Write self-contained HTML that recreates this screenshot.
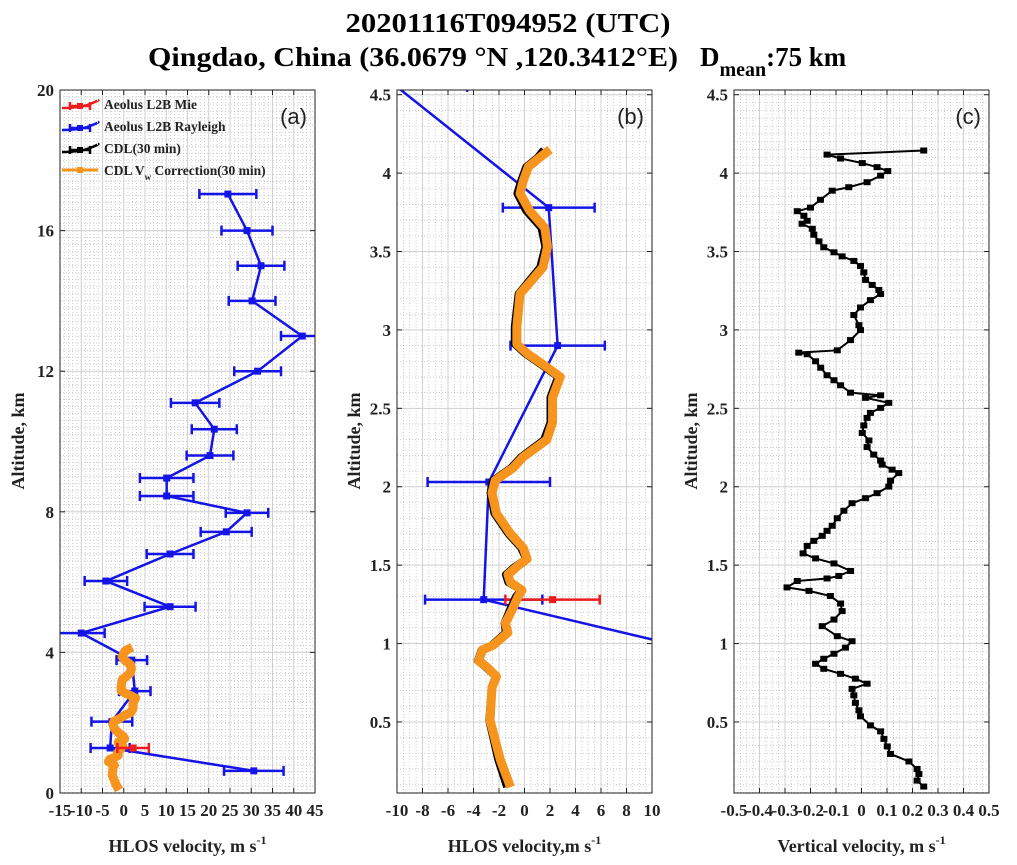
<!DOCTYPE html>
<html><head><meta charset="utf-8"><style>
html,body{margin:0;padding:0;background:#fff;}
svg{display:block;font-family:"Liberation Serif",serif;}
</style></head><body>
<svg id="fig" width="1017" height="865" viewBox="0 0 1017 865" xmlns="http://www.w3.org/2000/svg">
<text x="508" y="32" text-anchor="middle" font-size="27" font-weight="bold" textLength="325" lengthAdjust="spacingAndGlyphs">20201116T094952 (UTC)</text>
<text x="148" y="66" font-size="27" font-weight="bold"><tspan textLength="530" lengthAdjust="spacingAndGlyphs">Qingdao, China (36.0679 °N ,120.3412°E)</tspan><tspan dx="22">D</tspan><tspan font-size="20" dy="10">mean</tspan><tspan dy="-10" textLength="80" lengthAdjust="spacingAndGlyphs">:75 km</tspan></text>
<g id="pa"></g>
<g id="pb"></g>
<g id="pc"></g>
</svg>
<script>
// ---- data ----
const rayAlt = [17.04,16.0,15.0,14.0,13.0,12.0,11.1,10.35,9.6,8.96,8.45,7.97,7.43,6.8,6.03,5.3,4.55,3.78,2.9,2.03,1.28,0.63];
const rayVel = [24.5,29,32.3,30.2,42,31.5,16.8,21.3,20.3,10.1,10.1,29,24.1,10.9,-4.2,10.9,-10,1.9,2.6,-2.8,-3.2,30.6];
const rayErr = [6.7,6,5.5,5.5,5,5.5,5.7,5.3,5.5,6.3,6.3,5,6,5.5,5,6,5.5,3.6,3.7,4.8,4.6,7];
const mieAlt = [1.28];
const mieVel = [2.2];
const mieErr = [3.7];
const cdlAlt = [0.085,0.26,0.51,0.72,0.79,0.85,0.89,0.96,0.99,1.07,1.13,1.21,1.30,1.34,1.39,1.44,1.49,1.54,1.61,1.70,1.83,1.96,2.04,2.12,2.19,2.30,2.41,2.57,2.70,2.76,2.85,2.91,3.02,3.23,3.30,3.40,3.53,3.65,3.76,3.87,3.95,4.04,4.10,4.15];
const cdlVel = [-1.4,-2.1,-2.8,-2.6,-2.3,-3.1,-3.7,-3.4,-2.6,-1.5,-1.6,-1.2,-0.7,-0.3,-1.3,-1.5,-0.8,0.1,-0.3,-1.3,-2.4,-2.7,-2.5,-1.1,-0.3,1.5,2.0,2.0,2.6,1.6,0.0,-0.8,-0.8,-0.5,0.2,1.2,1.6,1.3,0.1,-0.6,-0.3,0.1,1.0,1.5];
const corVel = [-1.1,-1.9,-2.7,-2.55,-2.2,-2.95,-3.6,-3.3,-2.45,-1.3,-1.5,-1.0,-0.5,-0.2,-1.1,-1.3,-0.6,0.2,-0.1,-1.1,-2.2,-2.55,-2.3,-0.9,-0.1,1.75,2.2,2.2,2.8,1.8,0.2,-0.6,-0.6,-0.35,0.4,1.45,1.8,1.6,0.4,-0.35,-0.1,0.3,1.2,2.0];
const vwAlt = [4.144,4.118,4.093,4.064,4.038,4.013,3.984,3.942,3.91,3.888,3.83,3.78,3.757,3.728,3.696,3.677,3.645,3.607,3.565,3.527,3.495,3.469,3.44,3.408,3.367,3.319,3.287,3.255,3.229,3.19,3.143,3.095,3.03,2.999,2.935,2.87,2.855,2.845,2.8,2.759,2.711,2.679,2.647,2.6,2.583,2.567,2.535,2.503,2.471,2.439,2.391,2.343,2.295,2.253,2.205,2.167,2.141,2.109,2.087,2.039,2.001,1.959,1.927,1.895,1.847,1.799,1.751,1.719,1.687,1.655,1.623,1.575,1.543,1.511,1.463,1.431,1.415,1.399,1.358,1.336,1.303,1.255,1.207,1.153,1.111,1.047,1.015,0.974,0.935,0.903,0.871,0.839,0.807,0.776,0.744,0.711,0.67,0.622,0.574,0.536,0.478,0.44,0.392,0.344,0.296,0.248,0.2,0.168,0.126,0.088];
const vwVel = [0.244,-0.135,-0.082,0.003,0.061,0.103,0.075,0.022,-0.05,-0.115,-0.161,-0.2,-0.252,-0.226,-0.213,-0.233,-0.193,-0.187,-0.167,-0.148,-0.108,-0.076,-0.03,-0.004,0.009,0.016,0.042,0.068,0.075,0.035,-0.004,-0.03,-0.01,-0.004,-0.043,-0.095,-0.246,-0.213,-0.18,-0.16,-0.135,-0.108,-0.082,-0.043,0.075,0.016,0.107,0.075,0.035,0.022,0.009,0.003,0.029,0.022,0.048,0.075,0.081,0.12,0.146,0.114,0.107,0.061,0.016,-0.037,-0.069,-0.095,-0.115,-0.135,-0.154,-0.187,-0.213,-0.229,-0.18,-0.108,-0.043,-0.089,-0.135,-0.252,-0.292,-0.206,-0.122,-0.082,-0.076,-0.108,-0.154,-0.095,-0.037,-0.063,-0.108,-0.148,-0.18,-0.148,-0.082,-0.024,0.022,-0.037,-0.03,-0.024,-0.01,-0.004,0.035,0.075,0.088,0.101,0.114,0.186,0.218,0.225,0.218,0.244];
const aXTicks = [-15,-10,-5,0,5,10,15,20,25,30,35,40,45];
const aYTicks = [0,4,8,12,16,20];
const bXTicks = [-10,-8,-6,-4,-2,0,2,4,6,8,10];
const bYTicks = [0.5,1,1.5,2,2.5,3,3.5,4,4.5];
const cXTicks = [-0.5,-0.4,-0.3,-0.2,-0.1,0,0.1,0.2,0.3,0.4,0.5];
const cXLabels = ["-0.5","-0.4","-0.3","-0.2","-0.1","0","0.1","0.2","0.3","0.4","0.5"];
const cYTicks = [0.5,1,1.5,2,2.5,3,3.5,4,4.5];

const NS="http://www.w3.org/2000/svg";
function mk(parent, tag, at){const e=document.createElementNS(NS,tag);for(const k in at)e.setAttribute(k,at[k]);parent.appendChild(e);return e;}

function panel(g, o){
  const L=o.L,R=o.R,T=90,B=793;
  const sx=v=>L+(v-o.x0)/(o.x1-o.x0)*(R-L);
  const sy=v=>B-(v-o.y0)/(o.y1-o.y0)*(B-T);
  const defsId='clip'+g.id;
  const cp=mk(g,'clipPath',{id:defsId}); mk(cp,'rect',{x:L,y:T,width:R-L,height:B-T});
  const grid=mk(g,'g',{stroke:'#bbb','stroke-width':0.7,'stroke-dasharray':'1 2'});
  
  
  for(let v=o.x0;v<=o.x1+1e-9;v+=o.xm){mk(grid,'line',{x1:sx(v),x2:sx(v),y1:T,y2:B});}
  for(let v=o.ym0;v<=o.y1+1e-9;v+=o.ym){mk(grid,'line',{x1:L,x2:R,y1:sy(v),y2:sy(v)});}
  const mg=mk(g,'g',{stroke:'#d0d0d0','stroke-width':1});
  
  
  o.xt.forEach(v=>mk(mg,'line',{x1:sx(v),x2:sx(v),y1:T,y2:B}));
  o.yt.forEach(v=>{if(v<=o.y1)mk(mg,'line',{x1:L,x2:R,y1:sy(v),y2:sy(v)})});
  const data=mk(g,'g',{'clip-path':`url(#${defsId})`});
  
  
  o.draw(data,sx,sy);
  const ax=mk(g,'rect',{x:L,y:T,width:R-L,height:B-T,fill:'none',stroke:'#222','stroke-width':1});
  
  
  o.xt.forEach((v,i)=>{
    mk(g,'line',{x1:sx(v),x2:sx(v),y1:B,y2:B-5,stroke:'#222'});
    mk(g,'line',{x1:sx(v),x2:sx(v),y1:T,y2:T+5,stroke:'#222'});
    const t=mk(g,'text',{x:sx(v),y:B+23,'text-anchor':'middle','font-size':o.xfs||17,'font-weight':'bold',fill:'#222'});
    t.textContent=o.xl?o.xl[i]:String(v);
    
    
  });
  o.yt.forEach(v=>{
    mk(g,'line',{x1:L,x2:L+5,y1:sy(v),y2:sy(v),stroke:'#222'});
    mk(g,'line',{x1:R,x2:R-5,y1:sy(v),y2:sy(v),stroke:'#222'});
    const t=mk(g,'text',{x:L-6,y:sy(v)+6,'text-anchor':'end','font-size':17,'font-weight':'bold',fill:'#222'});
    t.textContent=String(v);
    
    
  });
  const pl=mk(g,'text',{x:R-8,y:T+34,'text-anchor':'end','font-size':22,'font-family':'Liberation Sans, sans-serif',fill:'#222'});
  pl.textContent=o.label;
  
  
  const yl=mk(g,'text',{x:0,y:0,transform:`translate(${o.ylx},441) rotate(-90)`,'text-anchor':'middle','font-size':18,'font-weight':'bold',fill:'#222'});
  yl.textContent='Altitude, km';
  
  
  const xl=mk(g,'text',{x:(L+R)/2,y:852,'text-anchor':'middle','font-size':18,'font-weight':'bold',fill:'#222'});
  xl.innerHTML=o.xtitle;
  
  
}

function errSeries(g,sx,sy,alt,vel,err,color,name){
  const pts=alt.map((a,i)=>sx(vel[i])+','+sy(a)).join(' ');
  const pl=mk(g,'polyline',{points:pts,fill:'none',stroke:color,'stroke-width':2.5});
  
  
  alt.forEach((a,i)=>{
    const y=sy(a),x0=sx(vel[i]-err[i]),x1=sx(vel[i]+err[i]);
    const eb=mk(g,'path',{d:`M${x0},${y}H${x1}M${x0},${y-5}V${y+5}M${x1},${y-5}V${y+5}`,stroke:color,'stroke-width':2.5,fill:'none'});
    
    
    const m=mk(g,'rect',{x:sx(vel[i])-3.5,y:y-3.5,width:7,height:7,fill:color});
    
    
  });
}
function cdl(g,sx,sy,w){
  const b=mk(g,'polyline',{points:cdlAlt.map((a,i)=>sx(cdlVel[i])+','+sy(a)).join(' '),fill:'none',stroke:'#000','stroke-width':w,'stroke-linejoin':'round'});
  
  
  const o=mk(g,'polyline',{points:cdlAlt.map((a,i)=>sx(corVel[i])+','+sy(a)).join(' '),fill:'none',stroke:'#f7941d','stroke-width':w+2,'stroke-linejoin':'round'});
  
  
}

panel(document.getElementById('pa'),{L:60,R:315,x0:-15,x1:45,y0:0,y1:20,xm:1,ym0:0,ym:0.2,xt:aXTicks,yt:aYTicks,label:'(a)',ylx:24,
  xtitle:'HLOS velocity, m s<tspan font-size="12" dy="-8">-1</tspan>',
  draw:(g,sx,sy)=>{
    errSeries(g,sx,sy,rayAlt,rayVel,rayErr,'#1414e6','rayleigh');
    cdl(g,sx,sy,7);
    errSeries(g,sx,sy,mieAlt,mieVel,mieErr,'#ee1c1c','mie');
  }});
panel(document.getElementById('pb'),{L:397,R:652,x0:-10,x1:10,y0:0.047,y1:4.53,xm:0.5,ym0:0.1,ym:0.1,xt:bXTicks,yt:bYTicks,label:'(b)',ylx:360,
  xtitle:'HLOS velocity,m s<tspan font-size="12" dy="-8">-1</tspan>',
  draw:(g,sx,sy)=>{
    errSeries(g,sx,sy,rayAlt,rayVel,rayErr,'#1414e6','rayleigh');
    errSeries(g,sx,sy,mieAlt,mieVel,mieErr,'#ee1c1c','mie');
    cdl(g,sx,sy,7);
  }});
panel(document.getElementById('pc'),{L:734,R:989,x0:-0.5,x1:0.5,y0:0.047,y1:4.53,xm:0.025,ym0:0.05,ym:0.05,xt:cXTicks,xl:cXLabels,xfs:17,yt:cYTicks,label:'(c)',ylx:697,
  xtitle:'Vertical velocity, m s<tspan font-size="12" dy="-8">-1</tspan>',
  draw:(g,sx,sy)=>{
    const l=mk(g,'polyline',{points:vwAlt.map((a,i)=>sx(vwVel[i])+','+sy(a)).join(' '),fill:'none',stroke:'#000','stroke-width':2});
    
    
    vwAlt.forEach((a,i)=>{
      const m=mk(g,'rect',{x:sx(vwVel[i])-3.5,y:sy(a)-3,width:7,height:6,fill:'#000'});
      
      
    });
  }});

const pa=document.getElementById('pa');
const leg=mk(pa,'g',{});


const legItems=[['Aeolus L2B Mie','#ee1c1c',106],['Aeolus L2B Rayleigh','#1414e6',128],['CDL(30 min)','#000',150],['CDL V','#f7941d',172]];
legItems.forEach((it,i)=>{
  const y=it[2];
  const e=mk(leg,'g',{});
  
  
  if(i<3){
    mk(e,'path',{d:`M62,${y+2} Q80,${y+2} 90,${y-2} T98,${y-6}`,stroke:it[1],'stroke-width':2.5,fill:'none'});
    mk(e,'path',{d:`M70,${y}H90M70,${y-4}V${y+4}M90,${y-4}V${y+4}`,stroke:it[1],'stroke-width':2.5,fill:'none'});
    mk(e,'rect',{x:77,y:y-3,width:6,height:6,fill:it[1]});
  } else {
    mk(e,'line',{x1:62,x2:98,y1:y-2,y2:y-2,stroke:it[1],'stroke-width':3});
    mk(e,'rect',{x:77,y:y-5,width:6,height:6,fill:it[1]});
  }
  const t=mk(e,'text',{x:104,y:y+3,'font-size':13.5,'font-weight':'bold',fill:'#222'});
  if(i<3) t.textContent=it[0];
  else t.innerHTML='CDL V<tspan font-size="9" dy="5">w</tspan><tspan dy="-5"> Correction(30 min)</tspan>';
});
</script>
</body></html>
